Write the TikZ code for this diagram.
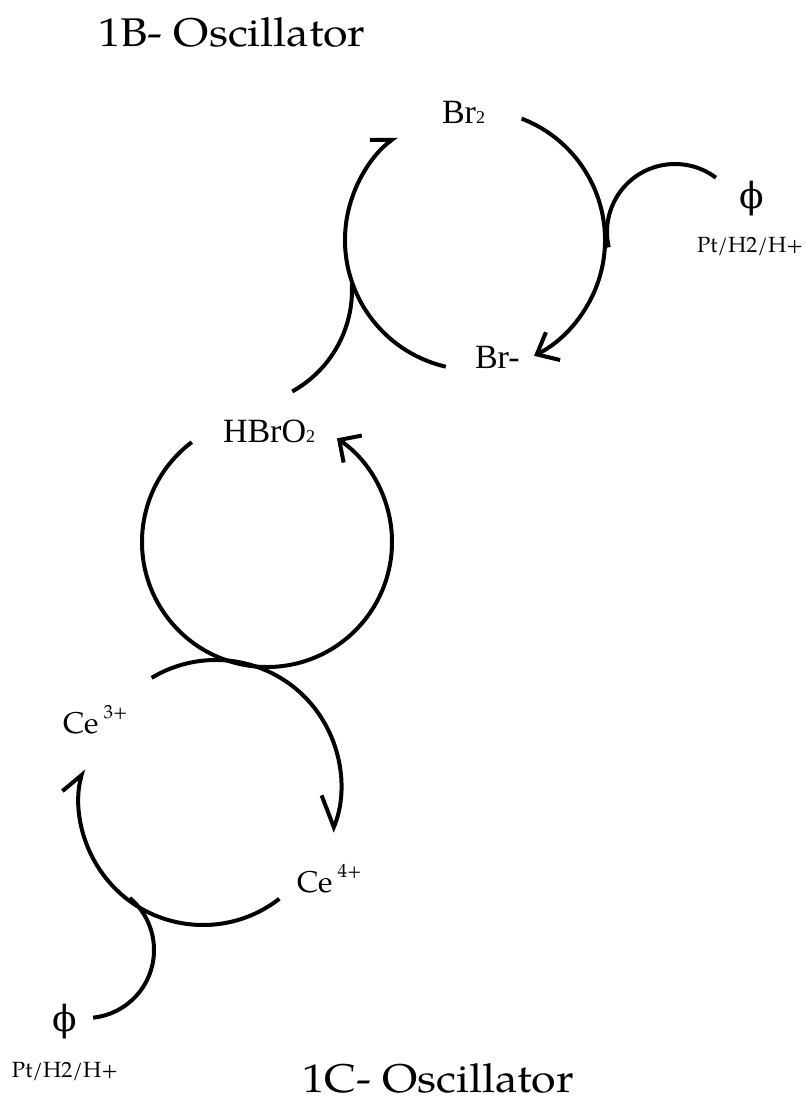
\documentclass[tikz,border=0pt]{standalone}
\usepackage{fontspec}
\usetikzlibrary{arrows.meta}
\newfontfamily\pal{texgyrepagella-regular.otf}
\newfontfamily\tms{Liberation Serif}
\newfontfamily\gk{DejaVu Serif}
\tikzset{
  ln/.style={line width=4pt},
  lbl/.style={inner sep=0pt, outer sep=0pt, anchor=base west},
}
\begin{document}
\begin{tikzpicture}[x=1pt,y=-1pt]
\useasboundingbox (0,0) rectangle (804,1102);
% titles
\node[lbl] (t1) at (98,47) {\pal\fontsize{40}{40}\selectfont\scalebox{1.12}[1]{1B- Oscillator}};
\node[lbl] (t2) at (302,1092) {\pal\fontsize{40}{40}\selectfont\scalebox{1.12}[1]{1C- Oscillator}};
% species
\node[lbl] (br2) at (442,124) {\tms\fontsize{34}{34}\selectfont Br{\fontsize{18}{18}\selectfont 2}};
\node[lbl] (brm) at (475,368) {\tms\fontsize{34}{34}\selectfont Br-};
\node[lbl] (hbro) at (223,442) {\tms\fontsize{34}{34}\selectfont HBrO{\fontsize{18}{18}\selectfont 2}};
\node[lbl] (ce3) at (63,733) {\pal\fontsize{30}{30}\selectfont Ce\,\raisebox{15pt}{\fontsize{19}{19}\selectfont 3+}};
\node[lbl] (ce4) at (297,892) {\pal\fontsize{30}{30}\selectfont Ce\,\raisebox{15pt}{\fontsize{19}{19}\selectfont 4+}};
\node[inner sep=0pt] (phi1) at (752,199) {\gk\fontsize{36}{36}\selectfont ϕ};
\node[lbl] (pt1) at (697,252) {\pal\fontsize{22}{22}\selectfont Pt/H2/H+};
\node[inner sep=0pt] (phi2) at (65,1022) {\gk\fontsize{36}{36}\selectfont ϕ};
\node[lbl] (pt2) at (12,1077) {\pal\fontsize{22}{22}\selectfont Pt/H2/H+};
% centres
\coordinate (c1) at (475,240);
\coordinate (c2) at (267,542);
\coordinate (c3a) at (216,785);
\coordinate (c3b) at (203,801);
\coordinate (cp1) at (675,232);
\coordinate (cp2) at (86,950);
\coordinate (ch) at (236,290);
% Br cycle
\draw[ln,-{Straight Barb[left,angle=74:22pt]}] ([shift={(103:130)}]c1) arc[start angle=103,end angle=233,radius=130];
\draw[ln,-{Straight Barb[angle=81:24pt]}] ([shift={(-69:130)}]c1) arc[start angle=-69,end angle=63,radius=130];
% phi connector top
\draw[ln] ([shift={(167:68)}]cp1) arc[start angle=167,end angle=307,radius=68];
% connector to HBrO2
\draw[ln] ([shift={(-3:116)}]ch) arc[start angle=-3,end angle=61,radius=116];
% HBrO2 cycle
\draw[ln,-{Straight Barb[angle=90:23pt]}] ([shift={(233:125)}]c2) arc[start angle=233,end angle=-56,radius=125];
% Ce cycle
\draw[ln,-{Straight Barb[right,angle=86:34pt]}] ([shift={(239:125)}]c3a) arc[start angle=239,end angle=382,radius=125];
\draw[ln,-{Straight Barb[left,angle=70:25pt]}] ([shift={(52:124)}]c3b) arc[start angle=52,end angle=195,radius=124];
% phi connector bottom
\draw[ln] ([shift={(-50:68)}]cp2) arc[start angle=-50,end angle=84,radius=68];
\end{tikzpicture}
\end{document}
